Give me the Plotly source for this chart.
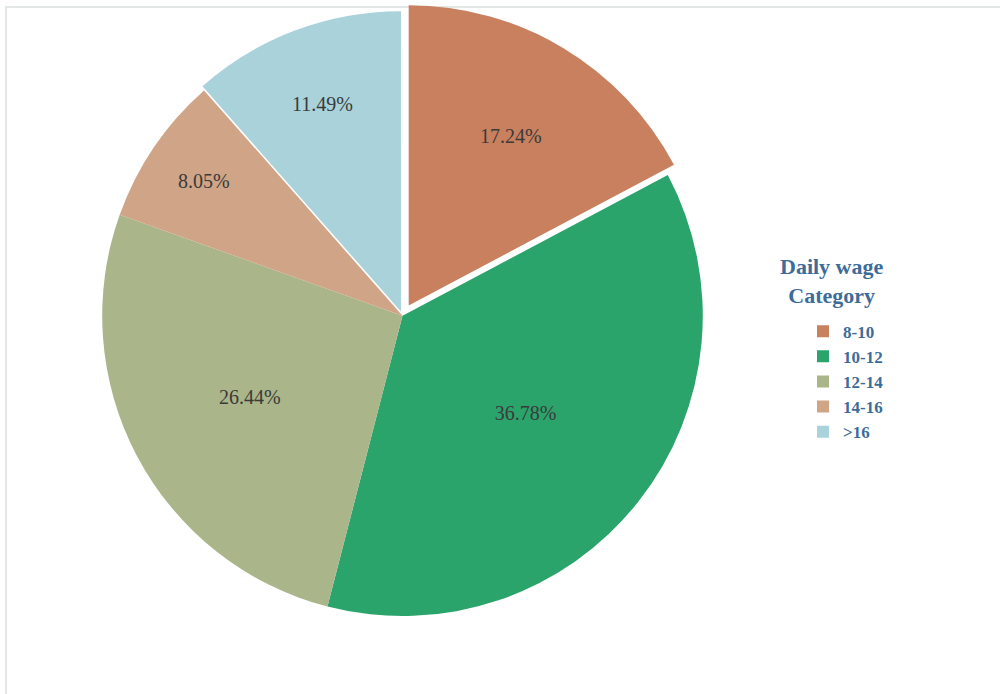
import plotly.graph_objects as go

# Share of workers by daily wage category
categories = ["8-10", "10-12", "12-14", "14-16", ">16"]
shares = [17.24, 36.78, 26.44, 8.05, 11.49]
slice_colors = ["#c8805e", "#2ba46c", "#aab58a", "#cfa487", "#a9d2da"]
pulls = [0.04, 0.0, 0.0, 0.0, 0.015]

legend_title = "Daily wage<br>Category"
text_blue = "#3d6c99"
serif = "Liberation Serif"

fig = go.Figure(
    go.Pie(
        labels=categories,
        values=shares,
        sort=False,
        direction="clockwise",
        rotation=0,
        pull=pulls,
        marker=dict(colors=slice_colors, line=dict(color="#ffffff", width=0)),
        texttemplate="%{value:.2f}%",
        textposition="inside",
        insidetextorientation="horizontal",
        textfont=dict(family=serif, size=20, color="#3a3a3a"),
        hoverinfo="label+value",
        domain=dict(x=[0.08, 0.725], y=[0.095, 0.995]),
    )
)

fig.update_layout(
    width=1000,
    height=694,
    margin=dict(l=0, r=0, t=0, b=0),
    paper_bgcolor="#ffffff",
    plot_bgcolor="#ffffff",
    showlegend=True,
    legend=dict(
        x=0.803,
        y=0.45,
        xanchor="left",
        yanchor="middle",
        font=dict(family=serif, size=17, color=text_blue, weight="bold"),
        itemwidth=30,
        tracegroupgap=0,
        bgcolor="rgba(0,0,0,0)",
    ),
    annotations=[
        dict(
            text=legend_title,
            xref="paper", yref="paper",
            x=0.832, y=0.553,
            xanchor="center", yanchor="bottom",
            showarrow=False,
            align="center",
            font=dict(family=serif, size=22, color=text_blue, weight="bold"),
        )
    ],
    shapes=[
        dict(
            type="rect", xref="paper", yref="paper",
            x0=0.006, x1=1.2, y0=-0.2, y1=0.99,
            line=dict(color="#e4e8e4", width=2),
            fillcolor="rgba(0,0,0,0)",
            layer="below",
        )
    ],
)

fig.write_html("out.html")
